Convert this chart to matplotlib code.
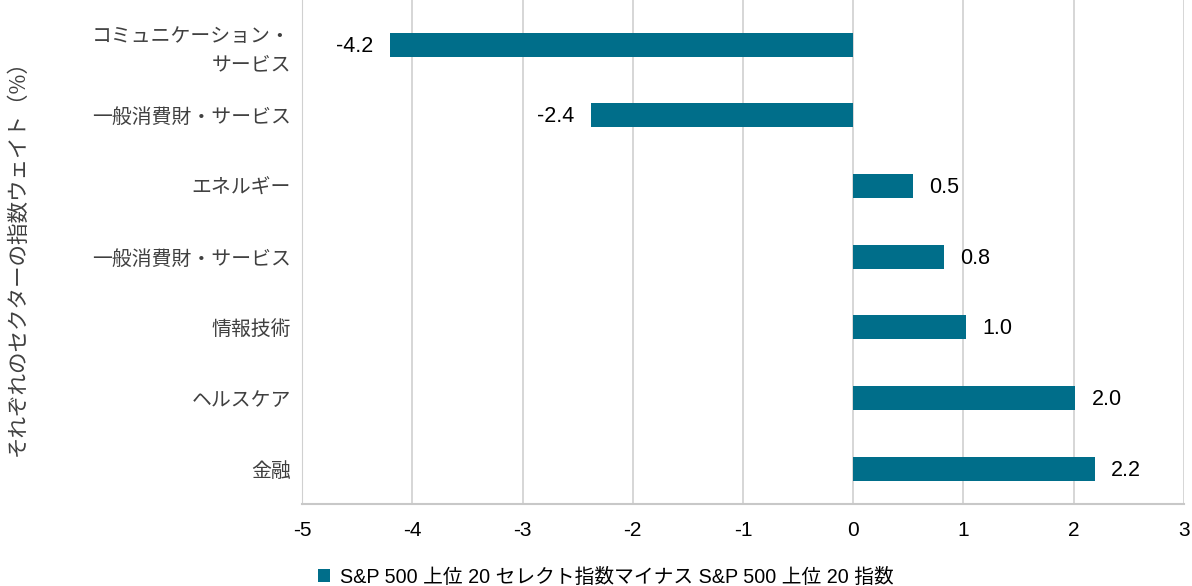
import matplotlib
matplotlib.use("Agg")
import matplotlib.pyplot as plt
from matplotlib.patches import Patch

plt.rcParams['font.family'] = ['Liberation Sans', 'Noto Sans CJK JP']

categories = ["コミュニケーション・\nサービス", "一般消費財・サービス", "エネルギー",
              "一般消費財・サービス", "情報技術", "ヘルスケア", "金融"]
values = [-4.2, -2.38, 0.54, 0.82, 1.02, 2.01, 2.19]
xticks = [-5, -4, -3, -2, -1, 0, 1, 2, 3]
series_name = "S&P 500 上位 20 セレクト指数マイナス S&P 500 上位 20 指数"
ylabel = "それぞれのセクターの指数ウェイト（%）"
bar_color = "#006E8A"

fig = plt.figure(figsize=(11.92, 5.86), dpi=100)
ax = fig.add_axes([302/1192, 1-504/586, (1184-302)/1192, 504/586])

pos = list(range(len(categories)))
ax.barh(pos, values, height=0.34, color=bar_color, zorder=3)
ax.set_ylim(6.5, -0.5 - 9.3/70.67)
ax.set_xlim(-5, 3)
ax.set_xticks(xticks)
ax.set_xticklabels([str(t) for t in xticks], fontsize=15, color="#000000")
ax.set_yticks(pos)
ax.set_yticklabels(categories, fontsize=14.3, color="#404040",
                   family=['Noto Sans CJK JP', 'Liberation Sans'], linespacing=1.45)
ax.tick_params(axis='y', length=0, pad=8)
ax.tick_params(axis='x', length=0, pad=12)
ax.grid(axis='x', color="#D0D0D0", linewidth=1.2, zorder=0)
for s in ['top', 'right']:
    ax.spines[s].set_visible(False)
ax.spines['left'].set_color("#D0D0D0")
ax.spines['bottom'].set_color("#C8C8C8")
ax.spines['bottom'].set_linewidth(1.5)

for p, v in zip(pos, values):
    ax.annotate(f"{v:.1f}", xy=(v, p), xytext=(12 if v > 0 else -12, -1),
                textcoords="offset points", ha='left' if v > 0 else 'right',
                va='center', fontsize=15.5, color="#000000")

fig.text(18/1192, 1-253/586, ylabel, rotation=90, ha='center', va='center',
         fontsize=15.5, color="#404040", family=['Noto Sans CJK JP', 'Liberation Sans'])

handle = Patch(facecolor=bar_color, edgecolor='none')
fig.legend([handle], [series_name], loc='center left',
           bbox_to_anchor=(300/1192, 1-577/586), frameon=False,
           handlelength=0.6, handleheight=0.6, handletextpad=0.55,
           prop={'family': ['Liberation Sans', 'Noto Sans CJK JP'], 'size': 14.2})

fig.savefig("out.png", dpi=100)
